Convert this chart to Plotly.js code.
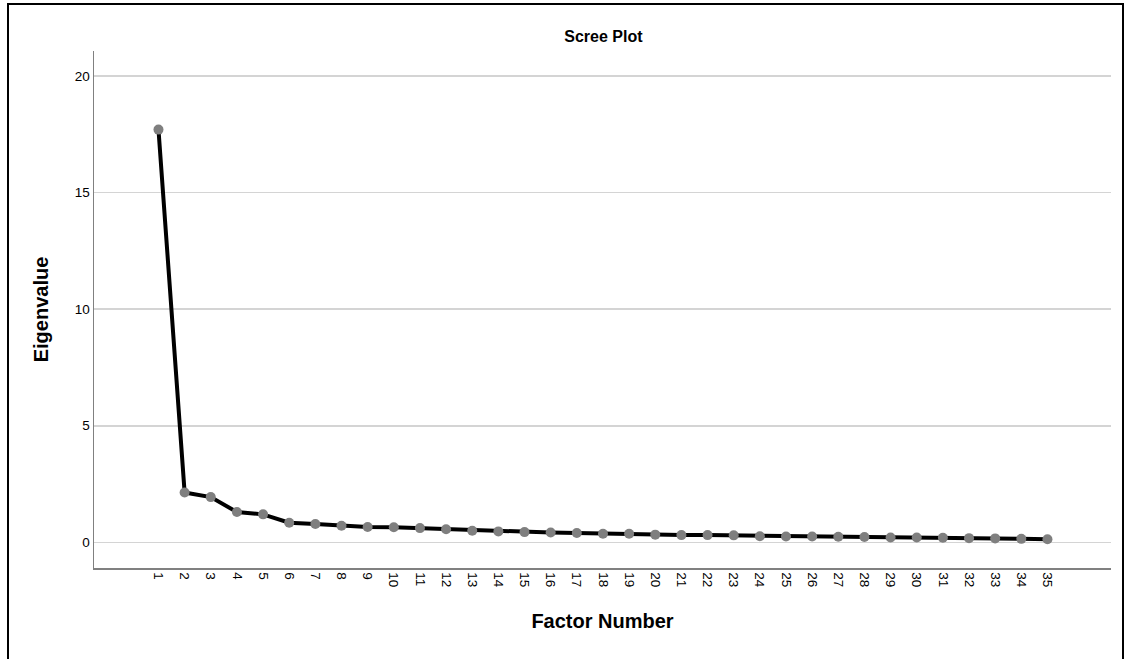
<!DOCTYPE html>
<html>
<head>
<meta charset="utf-8">
<script src="https://cdn.plot.ly/plotly-3.0.1.min.js"></script>
<style>
  html, body { margin: 0; padding: 0; background: #fff; }
  #wrap { position: relative; width: 1130px; height: 659px; }
  #frame { position: absolute; left: 7px; top: 3px; width: 1117px; height: 700px; border: 2px solid #000; box-sizing: border-box; pointer-events: none; }
  #chart { position: absolute; left: 0; top: 0; width: 1130px; height: 659px; }
</style>
</head>
<body>
<div id="wrap">
  <div id="chart"></div>
  <div id="frame"></div>
</div>
<script>
const factorNumbers = [1,2,3,4,5,6,7,8,9,10,11,12,13,14,15,16,17,18,19,20,21,22,23,24,25,26,27,28,29,30,31,32,33,34,35];
const eigenvalues = [17.70, 2.14, 1.94, 1.30, 1.20, 0.84, 0.79, 0.71, 0.66, 0.65, 0.61, 0.56, 0.50, 0.47, 0.44, 0.42, 0.40, 0.37, 0.37, 0.33, 0.31, 0.31, 0.30, 0.26, 0.25, 0.25, 0.24, 0.23, 0.21, 0.21, 0.20, 0.18, 0.17, 0.15, 0.13];
const yTicks = [0, 5, 10, 15, 20];

const font = "Liberation Sans, Arial, sans-serif";

const trace = {
  x: factorNumbers,
  y: eigenvalues,
  type: 'scatter',
  mode: 'lines+markers',
  line: { color: '#000000', width: 4 },
  marker: { color: '#7f7f7f', size: 10 },
  hoverinfo: 'x+y'
};

const layout = {
  width: 1130,
  height: 659,
  margin: { l: 94, r: 19, t: 51, b: 91 },
  paper_bgcolor: 'rgba(0,0,0,0)',
  plot_bgcolor: '#ffffff',
  showlegend: false,
  font: { family: font, color: '#000' },
  title: {
    text: '<b>Scree Plot</b>',
    font: { family: font, size: 16, color: '#000' },
    x: 0.534, xref: 'container', xanchor: 'center',
    y: 1 - 36/659, yref: 'container', yanchor: 'middle'
  },
  xaxis: {
    range: [-1.466, 37.43],
    tickmode: 'array',
    tickvals: factorNumbers,
    ticktext: factorNumbers.map(String),
    tickangle: 90,
    ticks: '',
    showgrid: false,
    zeroline: false,
    showline: true,
    linecolor: '#808080',
    linewidth: 1.5,
    tickfont: { family: font, size: 13.5, color: '#000' },
    title: { text: '<b>Factor Number</b>', font: { family: font, size: 20, color: '#000' }, standoff: 27 }
  },
  yaxis: {
    range: [-1.10, 21.07],
    tickmode: 'array',
    tickvals: yTicks,
    ticktext: yTicks.map(String),
    ticks: '',
    showgrid: true,
    gridcolor: '#d4d4d4',
    gridwidth: 1.5,
    zeroline: false,
    showline: true,
    linecolor: '#808080',
    linewidth: 1.5,
    tickfont: { family: font, size: 13.5, color: '#000' },
    title: { text: '<b>Eigenvalue</b>', font: { family: font, size: 20, color: '#000' }, standoff: 21 }
  }
};

Plotly.newPlot('chart', [trace], layout, { displayModeBar: false, staticPlot: true });
</script>
</body>
</html>
